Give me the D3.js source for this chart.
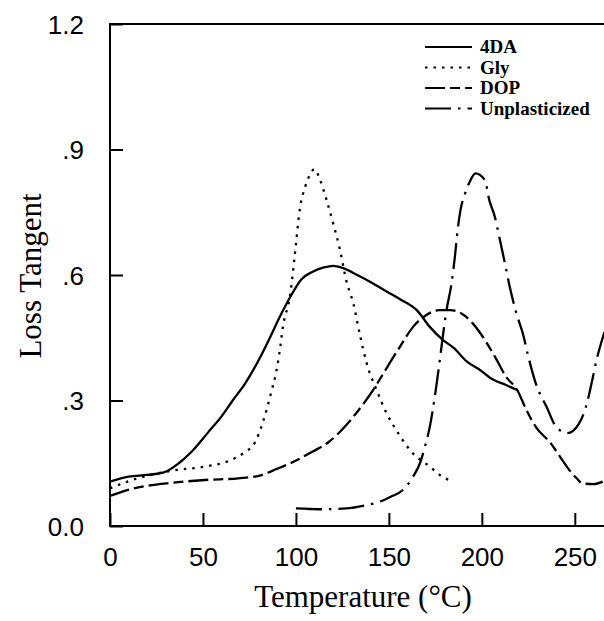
<!DOCTYPE html>
<html>
<head>
<meta charset="utf-8">
<script src="https://cdn.jsdelivr.net/npm/d3@7"></script>
<style>
  body { margin: 0; background: white; }
  svg { display: block; }
</style>
</head>
<body>
<div id="container"></div>
<script>
let w = 604;
let h = 621;

// DATA  (temperature °C, loss tangent)
let fourDA = [[0,.106],[10,.118],[20,.122],[29,.128],[37,.15],[44,.178],[53,.225],[60,.262],[66,.3],[73,.343],[81,.405],[86,.45],[91,.497],[97,.548],[103,.59],[109,.608],[115,.618],[120,.622],[125,.617],[133,.6],[141,.581],[149,.56],[156,.542],[165,.516],[172,.476],[179,.445],[185,.425],[192,.393],[199,.373],[206,.35],[213,.337],[219,.325]];
let gly = [[0,.09],[12,.11],[33,.132],[51,.142],[63,.154],[72,.175],[78,.2],[82,.245],[84.5,.282],[87,.325],[89,.36],[91,.41],[93,.476],[97,.555],[99.5,.652],[102,.755],[105,.811],[107.5,.839],[110,.853],[113,.827],[116.5,.779],[120,.724],[123.7,.66],[127,.588],[131,.53],[134.4,.457],[138,.39],[143.4,.325],[148.7,.27],[155,.222],[162,.178],[172,.142],[177.4,.122],[184,.106]];
let dop = [[0,.072],[11,.088],[20,.096],[33,.103],[51,.11],[69,.114],[80,.12],[90,.137],[97,.15],[109,.178],[118,.202],[127,.241],[134.4,.281],[141.5,.325],[148.7,.377],[156,.429],[163,.476],[170,.504],[177,.516],[183,.516],[189,.508],[195,.485],[201,.449],[207,.405],[213,.357],[219,.325],[224,.277],[229,.237],[237,.198],[242,.166],[247,.134],[251,.114],[254,.102],[260,.1],[265,.106]];
let unplast = [[100,.042],[113,.04],[127,.042],[138,.05],[145,.058],[151,.07],[157.5,.086],[163,.118],[166.7,.15],[169.4,.19],[172,.237],[174.7,.309],[177.4,.397],[179,.453],[181,.516],[183.7,.58],[185.5,.644],[187,.708],[188.5,.755],[191,.795],[193.5,.823],[196.6,.843],[201.6,.827],[204,.779],[207,.739],[209.7,.684],[212.4,.628],[215,.572],[218.6,.508],[222,.461],[225,.405],[229,.341],[234.8,.285],[240,.237],[246,.222],[252,.243],[256,.285],[259,.341],[261.7,.397],[265,.45],[268,.49]];

let seriesNames = ["4DA", "Gly", "DOP", "Unplasticized"];
let xTicks = [0, 50, 100, 150, 200, 250];
let yTicks = [0, 0.3, 0.6, 0.9, 1.2];
let yTickLabels = ["0.0", ".3", ".6", ".9", "1.2"];

let series = [
  {name: seriesNames[0], data: fourDA, dash: null},
  {name: seriesNames[1], data: gly, dash: "2.5,6"},
  {name: seriesNames[2], data: dop, dash: "20,5,10,5"},
  {name: seriesNames[3], data: unplast, dash: "26,7,2.5,7"}
];

// SVG
let viz = d3.select("#container").append("svg")
    .attr("width", w)
    .attr("height", h)
    .style("background-color", "white");

let x = d3.scaleLinear().domain([0, 270]).range([110, 612]);
let y = d3.scaleLinear().domain([0, 1.2]).range([526, 24]);

// frame
viz.append("rect")
    .attr("x", x(0)).attr("y", y(1.2))
    .attr("width", x(270) - x(0)).attr("height", y(0) - y(1.2))
    .attr("fill", "none").attr("stroke", "black").attr("stroke-width", 2);

// axes (ticks pointing in)
let xAxis = d3.axisBottom(x).tickValues(xTicks).tickSizeInner(-13).tickSizeOuter(0).tickPadding(22);
let yAxis = d3.axisLeft(y).tickValues(yTicks).tickSizeInner(-13).tickSizeOuter(0).tickPadding(26)
    .tickFormat(function(d, i){ return yTickLabels[i]; });

let gx = viz.append("g").attr("transform", "translate(0," + y(0) + ")").call(xAxis);
let gy = viz.append("g").attr("transform", "translate(" + x(0) + ",0)").call(yAxis);
[gx, gy].forEach(function(g){
  g.select(".domain").remove();
  g.selectAll("line").attr("stroke", "black").attr("stroke-width", 2);
  g.selectAll("text")
    .attr("fill", "black")
    .style("font-family", "'Liberation Sans', Arial, sans-serif")
    .style("font-size", "26px");
});
gx.selectAll("text").attr("dy", "0.71em");
gy.selectAll("text").attr("dy", "0.36em");

// lines
let lineMaker = d3.line()
    .x(function(d){ return x(d[0]); })
    .y(function(d){ return y(d[1]); })
    .curve(d3.curveMonotoneX);

viz.append("g").selectAll("path").data(series).enter()
  .append("path")
    .attr("d", function(d){ return lineMaker(d.data); })
    .attr("fill", "none")
    .attr("stroke", "black")
    .attr("stroke-width", 2.3)
    .attr("stroke-dasharray", function(d){ return d.dash; });

// legend
let legend = viz.append("g").selectAll("g").data(series).enter()
  .append("g")
    .attr("transform", function(d, i){ return "translate(425," + (47 + i * 20.5) + ")"; });
legend.append("line")
    .attr("x1", 0).attr("x2", 47).attr("y1", 0).attr("y2", 0)
    .attr("stroke", "black").attr("stroke-width", 2)
    .attr("stroke-dasharray", function(d){ return d.dash; });
legend.append("text")
    .attr("x", 55).attr("y", 0).attr("dy", "0.33em")
    .style("font-family", "'Liberation Serif', 'Times New Roman', serif")
    .style("font-size", "19px")
    .style("font-weight", "bold")
    .text(function(d){ return d.name; });

// axis titles
viz.append("text")
    .attr("x", 363).attr("y", 607)
    .attr("text-anchor", "middle")
    .style("font-family", "'Liberation Serif', 'Times New Roman', serif")
    .style("font-size", "31px")
    .text("Temperature (\u00B0C)");

viz.append("text")
    .attr("transform", "translate(41,276) rotate(-90)")
    .attr("text-anchor", "middle")
    .style("font-family", "'Liberation Serif', 'Times New Roman', serif")
    .style("font-size", "31px")
    .text("Loss Tangent");
</script>
</body>
</html>
